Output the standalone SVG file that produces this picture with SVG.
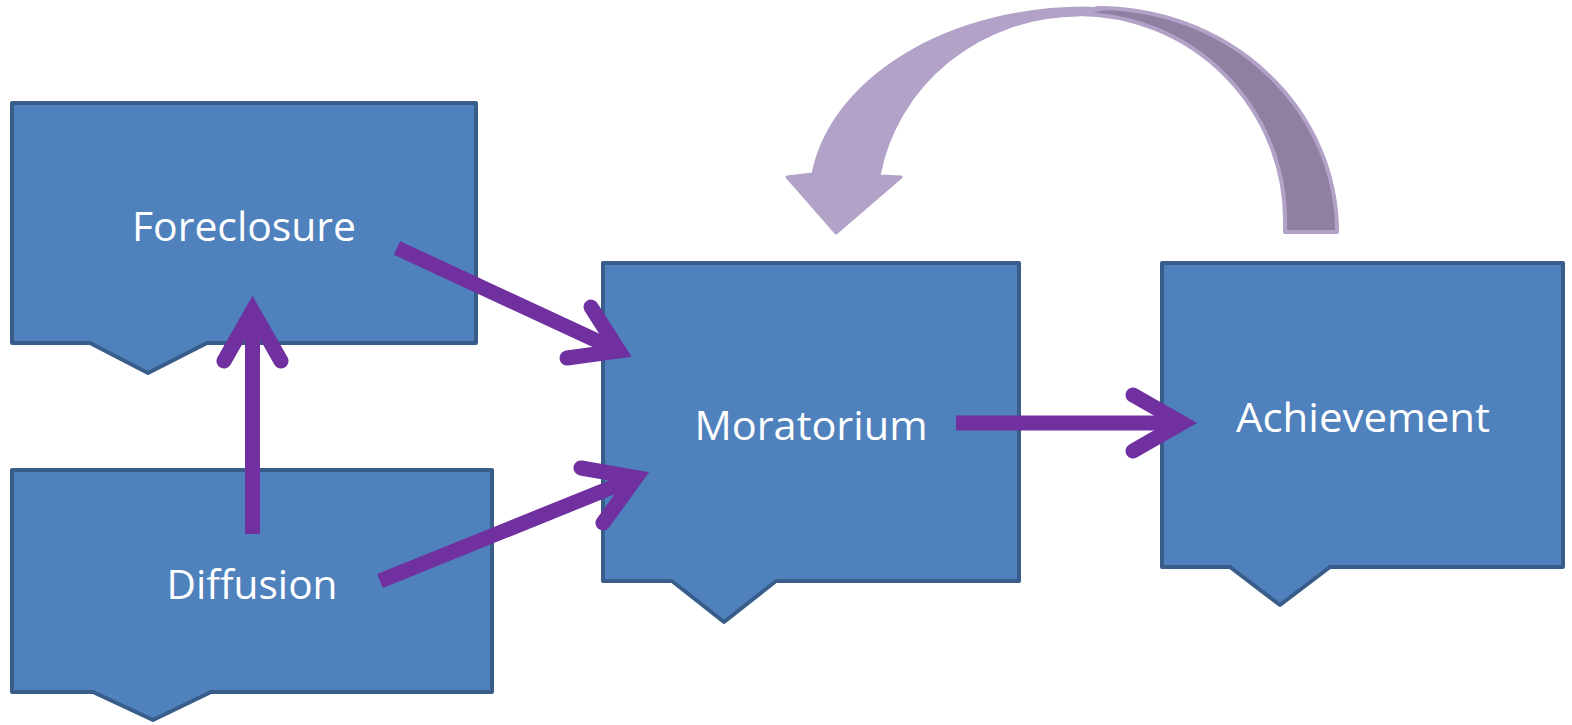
<svg xmlns="http://www.w3.org/2000/svg" width="1572" height="725" viewBox="0 0 1572 725">
<style>
.box{fill:#4F81BD;stroke:#385D8A;stroke-width:4;stroke-linejoin:round}
.lbl{font-family:"Open Sans","Noto Sans","Liberation Sans",sans-serif;font-size:40px;fill:#FFFFFF;text-anchor:middle}
.shaft{fill:none;stroke:#7030A0;stroke-width:15;stroke-linecap:butt}
.head{fill:none;stroke:#7030A0;stroke-width:15;stroke-linecap:round;stroke-linejoin:miter;stroke-miterlimit:10}
</style>
<rect width="1572" height="725" fill="#FFFFFF"/>
<g id="foreclosure">
<path class="box" d="M12,103 H476 V343 H207 L148,373 L90,343 H12 Z"/>
<text class="lbl" x="244" y="241" textLength="224" lengthAdjust="spacingAndGlyphs">Foreclosure</text>
</g>
<g id="diffusion">
<path class="box" d="M12,470 H492 V692 H211 L153,720 L93,692 H12 Z"/>
<text class="lbl" x="252" y="599" textLength="171" lengthAdjust="spacingAndGlyphs">Diffusion</text>
</g>
<g id="moratorium">
<path class="box" d="M603,263 H1019 V581 H776 L724,622 L672,581 H603 Z"/>
<text class="lbl" x="811" y="440" textLength="233" lengthAdjust="spacingAndGlyphs">Moratorium</text>
</g>
<g id="achievement">
<path class="box" d="M1162,263 H1563 V567 H1330 L1280,605 L1230,567 H1162 Z"/>
<text class="lbl" x="1363" y="432" textLength="254" lengthAdjust="spacingAndGlyphs">Achievement</text>
</g>
<g id="connectors">
<g id="diffusion-to-foreclosure">
<line class="shaft" x1="252.5" y1="534" x2="252.5" y2="312"/>
<polyline class="head" points="224,361 252.5,311 281,361"/>
</g>
<g id="foreclosure-to-moratorium">
<line class="shaft" x1="397" y1="248" x2="619" y2="351"/>
<polyline class="head" points="591,307 619,351 567,358"/>
</g>
<g id="diffusion-to-moratorium">
<line class="shaft" x1="380" y1="581" x2="636" y2="477.6"/>
<polyline class="head" points="581,468 636,477.6 603,523"/>
</g>
<g id="moratorium-to-achievement">
<line class="shaft" x1="956" y1="423" x2="1182" y2="423"/>
<polyline class="head" points="1133,395 1182,423 1133,451"/>
</g>
<g id="achievement-to-moratorium">
<path d="M1078,14 A207 206 0 0 1 1285,220 L1285,232 L1337,232 A239 224 0 0 0 1098,8 Z" fill="#8F80A3" stroke="#B3A2C7" stroke-width="4" stroke-linejoin="round"/>
<path d="M1102,9 L1085,8 A275 192 0 0 0 813,174 L787,177 L836,233 L901,177 L879,176 A203 195 0 0 1 1078,15 Z" fill="#B3A2C7" stroke="#B3A2C7" stroke-width="3" stroke-linejoin="round"/>
</g>
</g>
</svg>
